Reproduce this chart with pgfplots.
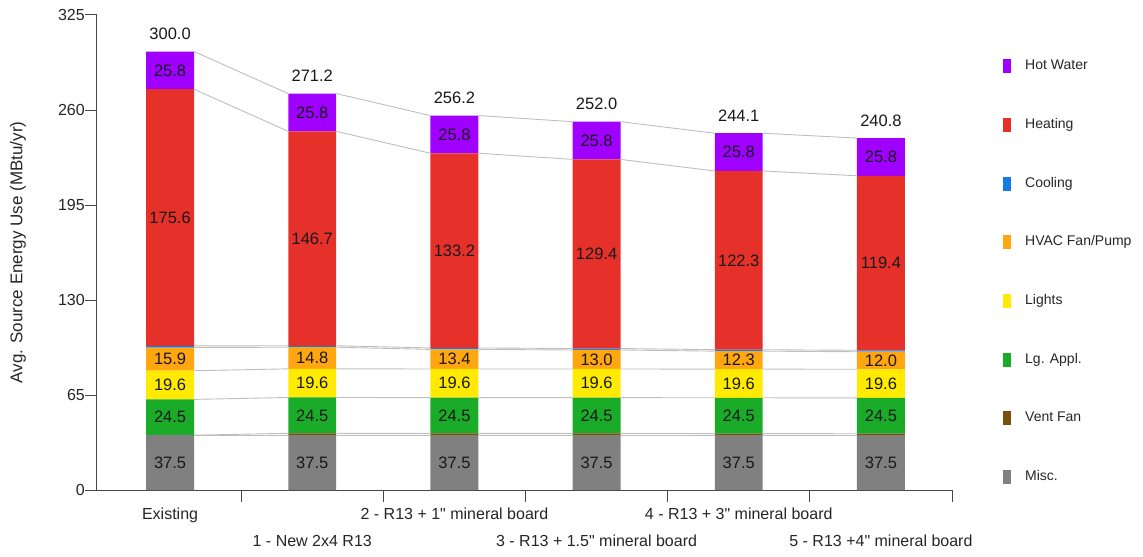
\documentclass[border=0pt]{standalone}
\usepackage{fontspec}
\setmainfont{Liberation Sans}
\newfontfamily\qf{Liberation Sans}
\usepackage{pgfplots}
\pgfplotsset{compat=1.18}
\definecolor{cHW}{RGB}{160,0,255}
\definecolor{cHeat}{RGB}{230,49,43}
\definecolor{cCool}{RGB}{24,120,232}
\definecolor{cHVAC}{RGB}{255,166,17}
\definecolor{cLight}{RGB}{255,234,0}
\definecolor{cLg}{RGB}{26,172,40}
\definecolor{cVent}{RGB}{122,80,10}
\definecolor{cMisc}{RGB}{128,128,128}
\definecolor{cConn}{RGB}{190,190,190}
\pgfplotsset{
  common/.style={width=855pt,height=475pt,scale only axis,
    xmin=-0.514,xmax=5.5,ymin=0,ymax=325},
  conn/.style={cConn, line width=0.9pt, mark=none, unbounded coords=jump},
  lab/.style={draw=none, mark=none, nodes near coords, point meta=explicit symbolic,
    every node near coord/.append style={anchor=center, inner sep=0pt, text=black!90,
      font=\fontsize{16.5}{19}\selectfont}},
}
\begin{document}
\begin{tikzpicture}
\begin{axis}[common,
  ybar stacked, bar width=0.3375,
  axis lines*=left,
  axis line style={black!72, line width=1pt},
  tick align=outside, major tick length=12pt,
  tick style={black!72, line width=1pt},
  ytick={0,65,130,195,260,325},
  /pgf/number format/assume math mode=true,
  yticklabel style={font=\fontsize{16}{19}\selectfont, text=black!85, inner sep=0pt, anchor=east},
  ylabel={Avg. Source Energy Use (MBtu/yr)},
  ylabel style={font=\fontsize{17}{20}\selectfont, text=black!85,
    at={(axis description cs:-0.0924,0.5)}, anchor=center},
  xtick={0.5,1.5,2.5,3.5,4.5,5.5}, xticklabels={},
  extra x ticks={0,1,2,3,4,5},
  extra x tick labels={{Existing},
    {\raisebox{-27pt}[\height][\depth]{1 - New 2x4 R13}},
    {2 - R13 + 1{\qf"} mineral board},
    {\raisebox{-27pt}[\height][\depth]{3 - R13 + 1.5{\qf"} mineral board}},
    {4 - R13 + 3{\qf"} mineral board},
    {\raisebox{-27pt}[\height][\depth]{5 - R13 +4{\qf"} mineral board}}},
  extra x tick style={major tick length=0pt,
    xticklabel style={anchor=north, inner sep=0pt, yshift=-18pt,
      font=\fontsize{16}{19}\selectfont, text=black!85}},
  reverse legend,
  legend cell align=left,
  legend image code/.code={\fill[#1] (0pt,-7pt) rectangle (8pt,7pt);},
  legend style={at={(axis description cs:1,1)}, anchor=north west,
    xshift=51pt, yshift=-44pt, draw=none, fill=none, inner sep=0pt,
    row sep=44.7pt, column sep=14pt,
    font=\fontsize{14}{17}\selectfont, text=black!85,
    nodes={inner sep=0pt, text height=10pt, text depth=3pt}},
]
\addplot[fill=cMisc, draw=none] coordinates {(0,37.5)(1,37.5)(2,37.5)(3,37.5)(4,37.5)(5,37.5)};
\addlegendentry{Misc.}
\addplot[fill=cVent, draw=none] coordinates {(0,0.0)(1,1.3)(2,1.2)(3,1.2)(4,1.1)(5,1.0)};
\addlegendentry{Vent Fan}
\addplot[fill=cLg, draw=none] coordinates {(0,24.5)(1,24.5)(2,24.5)(3,24.5)(4,24.5)(5,24.5)};
\addlegendentry{Lg. Appl.}
\addplot[fill=cLight, draw=none] coordinates {(0,19.6)(1,19.6)(2,19.6)(3,19.6)(4,19.6)(5,19.6)};
\addlegendentry{Lights}
\addplot[fill=cHVAC, draw=none] coordinates {(0,15.9)(1,14.8)(2,13.4)(3,13.0)(4,12.3)(5,12.0)};
\addlegendentry{HVAC Fan/Pump}
\addplot[fill=cCool, draw=none] coordinates {(0,1.1)(1,1.0)(2,1.0)(3,1.0)(4,1.0)(5,1.0)};
\addlegendentry{Cooling}
\addplot[fill=cHeat, draw=none] coordinates {(0,175.6)(1,146.7)(2,133.2)(3,129.4)(4,122.3)(5,119.4)};
\addlegendentry{Heating}
\addplot[fill=cHW, draw=none] coordinates {(0,25.8)(1,25.8)(2,25.8)(3,25.8)(4,25.8)(5,25.8)};
\addlegendentry{Hot Water}
\end{axis}
\begin{axis}[common, hide axis]
% connector lines between bar segment tops
\addplot[conn] coordinates {(0.169,37.5)(0.831,37.5)(1,nan)(1.169,37.5)(1.831,37.5)(2,nan)(2.169,37.5)(2.831,37.5)(3,nan)(3.169,37.5)(3.831,37.5)(4,nan)(4.169,37.5)(4.831,37.5)};
\addplot[conn] coordinates {(0.169,37.5)(0.831,38.8)(1,nan)(1.169,38.8)(1.831,38.7)(2,nan)(2.169,38.7)(2.831,38.7)(3,nan)(3.169,38.7)(3.831,38.6)(4,nan)(4.169,38.6)(4.831,38.5)};
\addplot[conn] coordinates {(0.169,62.0)(0.831,63.3)(1,nan)(1.169,63.3)(1.831,63.2)(2,nan)(2.169,63.2)(2.831,63.2)(3,nan)(3.169,63.2)(3.831,63.1)(4,nan)(4.169,63.1)(4.831,63.0)};
\addplot[conn] coordinates {(0.169,81.6)(0.831,82.9)(1,nan)(1.169,82.9)(1.831,82.8)(2,nan)(2.169,82.8)(2.831,82.8)(3,nan)(3.169,82.8)(3.831,82.7)(4,nan)(4.169,82.7)(4.831,82.6)};
\addplot[conn] coordinates {(0.169,97.5)(0.831,97.7)(1,nan)(1.169,97.7)(1.831,96.2)(2,nan)(2.169,96.2)(2.831,95.8)(3,nan)(3.169,95.8)(3.831,95.0)(4,nan)(4.169,95.0)(4.831,94.6)};
\addplot[conn] coordinates {(0.169,98.6)(0.831,98.7)(1,nan)(1.169,98.7)(1.831,97.2)(2,nan)(2.169,97.2)(2.831,96.8)(3,nan)(3.169,96.8)(3.831,96.0)(4,nan)(4.169,96.0)(4.831,95.6)};
\addplot[conn] coordinates {(0.169,274.2)(0.831,245.4)(1,nan)(1.169,245.4)(1.831,230.4)(2,nan)(2.169,230.4)(2.831,226.2)(3,nan)(3.169,226.2)(3.831,218.3)(4,nan)(4.169,218.3)(4.831,215.0)};
\addplot[conn] coordinates {(0.169,300.0)(0.831,271.2)(1,nan)(1.169,271.2)(1.831,256.2)(2,nan)(2.169,256.2)(2.831,252.0)(3,nan)(3.169,252.0)(3.831,244.1)(4,nan)(4.169,244.1)(4.831,240.8)};
% segment value labels (at segment mid-heights)
\addplot[lab] coordinates {(0,18.75)[37.5](1,18.75)[37.5](2,18.75)[37.5](3,18.75)[37.5](4,18.75)[37.5](5,18.75)[37.5]};
\addplot[lab] coordinates {(0,49.75)[24.5](1,51.05)[24.5](2,50.95)[24.5](3,50.95)[24.5](4,50.85)[24.5](5,50.75)[24.5]};
\addplot[lab] coordinates {(0,71.8)[19.6](1,73.1)[19.6](2,73.0)[19.6](3,73.0)[19.6](4,72.9)[19.6](5,72.8)[19.6]};
\addplot[lab] coordinates {(0,89.55)[15.9](1,90.3)[14.8](2,89.5)[13.4](3,89.3)[13.0](4,88.85)[12.3](5,88.6)[12.0]};
\addplot[lab] coordinates {(0,186.4)[175.6](1,172.05)[146.7](2,163.8)[133.2](3,161.5)[129.4](4,157.15)[122.3](5,155.3)[119.4]};
\addplot[lab] coordinates {(0,287.1)[25.8](1,258.3)[25.8](2,243.3)[25.8](3,239.1)[25.8](4,231.2)[25.8](5,227.9)[25.8]};
% totals above bars
\addplot[lab, every node near coord/.append style={anchor=south, yshift=11.5pt}]
  coordinates {(0,300.0)[300.0](1,271.2)[271.2](2,256.2)[256.2](3,252.0)[252.0](4,244.1)[244.1](5,240.8)[240.8]};
\end{axis}
\path (current axis.south west) ++(-97pt,-66pt) (current axis.north east) ++(191pt,15pt);
\end{tikzpicture}
\end{document}
